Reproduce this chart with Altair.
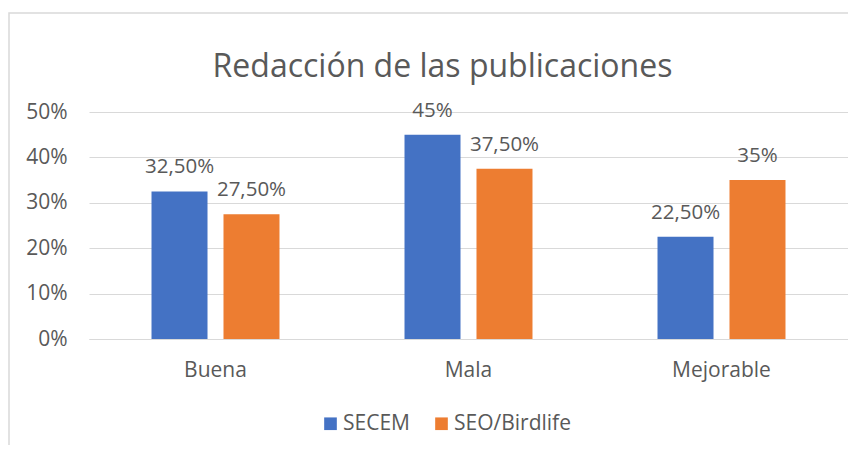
import altair as alt
import pandas as pd

categories = ["Buena", "Mala", "Mejorable"]
series = ["SECEM", "SEO/Birdlife"]
secem = [0.325, 0.45, 0.225]
seo = [0.275, 0.375, 0.35]
colors = ["#4472C4", "#ED7D31"]
title_text = "Redacción de las publicaciones"


def fmt(v):
    p = round(v * 100, 2)
    if abs(p - round(p)) < 1e-9:
        return f"{int(round(p))}%"
    return f"{p:.2f}%".replace(".", ",")


rows = []
for c, a, b in zip(categories, secem, seo):
    rows.append({"cat": c, "serie": series[0], "val": a, "lab": fmt(a)})
    rows.append({"cat": c, "serie": series[1], "val": b, "lab": fmt(b)})
df = pd.DataFrame(rows)

FONT = "Open Sans"
GREY = "#595959"

x = alt.X("cat:N", sort=categories, title=None,
          scale=alt.Scale(paddingInner=0.431, paddingOuter=0.2155),
          axis=alt.Axis(labelAngle=0, ticks=False, domainColor="#d9d9d9",
                        labelFontSize=21, labelColor=GREY, labelFont=FONT,
                        labelPadding=20))
xo = alt.XOffset("serie:N", sort=series,
                 scale=alt.Scale(paddingInner=0.222, paddingOuter=0.111))
y = alt.Y("val:Q", title=None,
          scale=alt.Scale(domain=[0, 0.5], nice=False),
          axis=alt.Axis(format=".0%", values=[0, 0.1, 0.2, 0.3, 0.4, 0.5],
                        domain=False, ticks=False, gridColor="#d9d9d9",
                        labelFontSize=21, labelColor=GREY, labelFont=FONT,
                        labelPadding=22))

bars = alt.Chart(df).mark_bar().encode(
    x=x, xOffset=xo, y=y,
    color=alt.Color("serie:N", sort=series,
                    scale=alt.Scale(domain=series, range=colors),
                    legend=alt.Legend(title=None, orient="none", direction="horizontal",
                                      legendX=231, legendY=301,
                                      symbolType="square", symbolSize=160,
                                      symbolStrokeWidth=0,
                                      labelFontSize=21, labelColor=GREY,
                                      labelFont=FONT, columnPadding=21,
                                      labelOffset=2)),
)

labels = alt.Chart(df).mark_text(baseline="alphabetic", dy=-18, fontSize=20.5,
                                 color=GREY, font=FONT).encode(
    x=x, xOffset=xo, y=y, text="lab:N"
)

title = alt.Chart(pd.DataFrame({"t": [title_text]})).mark_text(
    fontSize=32, font=FONT, color=GREY, baseline="alphabetic", align="center"
).encode(x=alt.value(353.5), y=alt.value(-35), text="t:N")

border = alt.Chart(pd.DataFrame({"a": [0]})).mark_rect(
    filled=False, stroke="#d9d9d9", strokeWidth=1.5, clip=False
).encode(x=alt.value(-80), x2=alt.value(790), y=alt.value(-99), y2=alt.value(360))

chart = alt.layer(border, bars, labels, title).properties(
    width=759, height=227,
    padding={"left": 81, "top": 104, "right": 0, "bottom": 106},
    autosize=alt.AutoSizeParams(type="none"),
).configure_view(stroke=None)

chart.save("out.html", embed_options={"renderer": "svg", "actions": False})
